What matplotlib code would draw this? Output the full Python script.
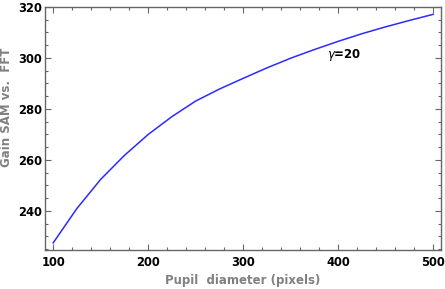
import matplotlib
matplotlib.use("Agg")
import matplotlib.pyplot as plt
from matplotlib.ticker import MultipleLocator

# Gain of SAM vs FFT as a function of pupil diameter (gamma = 20)
pupil = [100, 125, 150, 175, 200, 225, 250, 275, 300, 325, 350,
         375, 400, 425, 450, 475, 500]
gain = [227.5, 241.0, 252.4, 261.8, 270.0, 277.0, 283.1, 287.8, 292.0,
        296.1, 299.9, 303.3, 306.5, 309.5, 312.2, 314.7, 317.1]

x_ticks = [100, 200, 300, 400, 500]
y_ticks = [240, 260, 280, 300, 320]

frame_col = "#666666"
label_col = "#808080"

fig = plt.figure(figsize=(4.45, 2.89), dpi=100)
ax = fig.add_axes([0.101, 0.135, 0.889, 0.841])

ax.plot(pupil, gain, color="#2b2bff", linewidth=1.1)

ax.text(406, 301, r"$\gamma$=20", fontsize=8.5, fontweight="bold",
        ha="center", va="center", color="black")

ax.set_xlim(91.3, 507.8)
ax.set_ylim(224.7, 320)
ax.set_xticks(x_ticks)
ax.set_yticks(y_ticks)
ax.xaxis.set_minor_locator(MultipleLocator(20))
ax.yaxis.set_minor_locator(MultipleLocator(5))

ax.tick_params(which="both", direction="in", top=True, right=True,
               color=frame_col, width=0.8)
ax.tick_params(which="major", length=4, labelsize=8.3)
ax.tick_params(axis="x", which="major", pad=4.5)
ax.tick_params(axis="y", which="major", pad=2)
ax.tick_params(which="minor", length=2)
for lab in ax.get_xticklabels() + ax.get_yticklabels():
    lab.set_fontweight("bold")

for sp in ax.spines.values():
    sp.set_color(frame_col)
    sp.set_linewidth(1.0)

ax.set_xlabel("Pupil  diameter (pixels)", fontsize=8.5, fontweight="bold",
              color=label_col)
ax.xaxis.set_label_coords(0.499, -0.098)
ax.set_ylabel("Gain SAM vs.  FFT", fontsize=8.5, fontweight="bold",
              color=label_col)
ax.yaxis.set_label_coords(-0.081, 0.588)

fig.savefig("out.png", dpi=100)
